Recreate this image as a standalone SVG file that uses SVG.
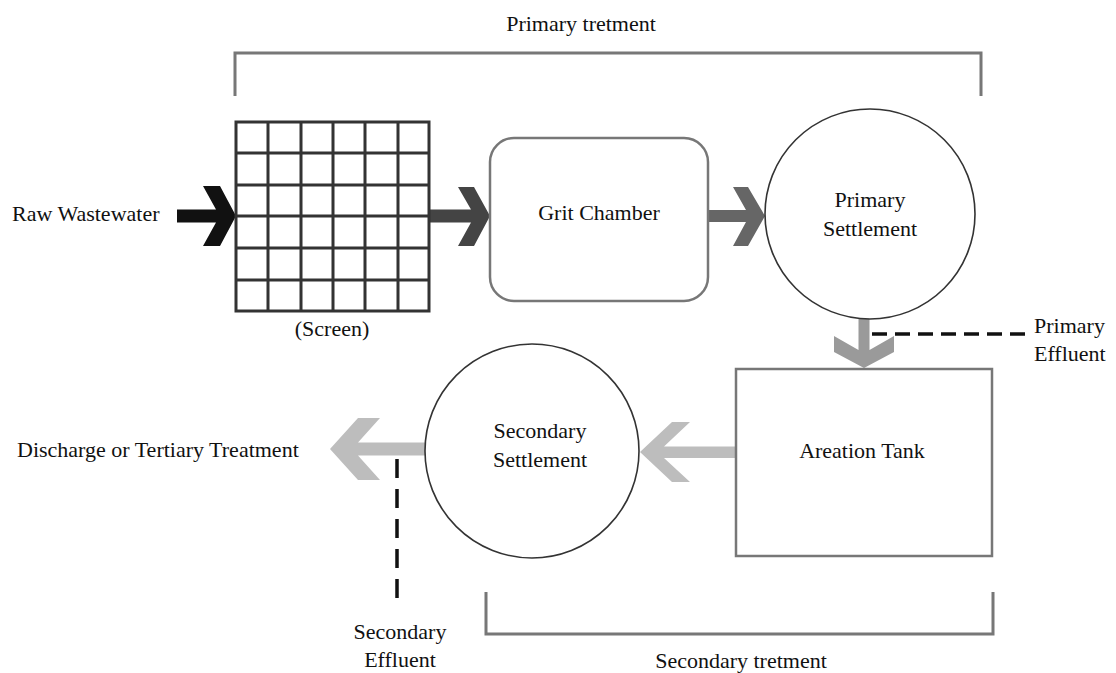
<svg xmlns="http://www.w3.org/2000/svg" width="1116" height="673" viewBox="0 0 1116 673">
<style>
text{font-family:"Liberation Serif","Times New Roman",serif;font-size:22px;fill:#111}
.c{text-anchor:middle}
.box{fill:#fff;stroke:#777;stroke-width:2.5}
.circ{fill:#fff;stroke:#333;stroke-width:1.6}
.grid{stroke:#333;stroke-width:3;fill:none}
.br{fill:none;stroke:#777;stroke-width:3}
.dash{fill:none;stroke:#111;stroke-width:3.5}
</style>
<rect width="1116" height="673" fill="#fff"/>
<g id="connectors">
<polygon id="a1" fill="#111" points="177,209.5 216,209.5 203,186 220,186 236,216 220,246 203,246 216,222.5 177,222.5"/>
<polygon id="a2" fill="#444" points="429,209.5 471,209.5 458,187 474,187 490,216 474,246 458,246 471,222.5 429,222.5"/>
<polygon id="a3" fill="#666" points="708,210 746,210 733,187 748,187 765,216 748,246 733,246 746,222 708,222"/>
<polygon id="a4" fill="#9a9a9a" points="858.5,318 858.5,350 834,336 834,352 864,368 894,352 894,336 869.5,350 869.5,318"/>
<polygon id="a5" fill="#bdbdbd" points="735,446.5 664,446.5 690,422 672,422 640,452 672,482 690,482 664,458 735,458"/>
<polygon id="a6" fill="#bdbdbd" points="425,442.5 358,442.5 380,418 358,418 330,449 358,480 380,480 358,455.5 425,455.5"/>
<path class="dash" d="M872,334 H1025" stroke-dasharray="15 8"/>
<path class="dash" d="M397,459 V607" stroke-dasharray="19 11"/>
</g>
<g id="primary-bracket">
<path class="br" d="M235,96 V53 H981 V96"/>
<text class="c" x="581" y="31">Primary tretment</text>
</g>
<g id="secondary-bracket">
<path class="br" d="M486,592 V634 H993 V592"/>
<text class="c" x="741" y="668">Secondary tretment</text>
</g>
<g id="raw">
<text x="12" y="221">Raw Wastewater</text>
</g>
<g id="screen">
<rect x="236" y="122" width="193" height="189" fill="#fff" class="grid"/>
<path class="grid" d="M268,122V311M301,122V311M333,122V311M365,122V311M398,122V311M236,153H429M236,185H429M236,216H429M236,248H429M236,280H429"/>
<text class="c" x="332" y="336">(Screen)</text>
</g>
<g id="grit">
<rect class="box" x="490" y="138" width="218" height="163" rx="24"/>
<text class="c" x="599" y="220">Grit Chamber</text>
</g>
<g id="primary-settlement">
<circle class="circ" cx="870" cy="214" r="105"/>
<text class="c" x="870" y="207">Primary</text>
<text class="c" x="870" y="236">Settlement</text>
</g>
<g id="primary-effluent">
<text x="1034" y="333">Primary</text>
<text x="1034" y="361">Effluent</text>
</g>
<g id="aeration">
<rect class="box" x="736" y="369" width="256" height="187"/>
<text class="c" x="862" y="458">Areation Tank</text>
</g>
<g id="secondary-settlement">
<circle class="circ" cx="532" cy="451" r="107"/>
<text class="c" x="540" y="438">Secondary</text>
<text class="c" x="540" y="467">Settlement</text>
</g>
<g id="secondary-effluent">
<text class="c" x="400" y="639">Secondary</text>
<text class="c" x="400" y="667">Effluent</text>
</g>
<g id="discharge">
<text x="17" y="457">Discharge or Tertiary Treatment</text>
</g>
</svg>
